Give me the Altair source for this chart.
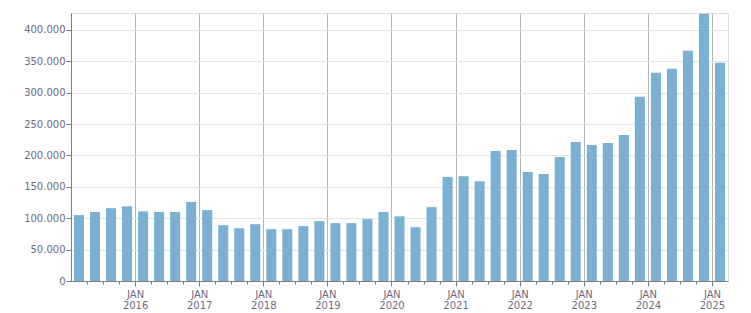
import altair as alt
import pandas as pd

quarters = [f"{y}-Q{q}" for y in range(2015, 2026) for q in range(1, 5)][:41]
values = [
    105000, 110000, 116000, 119000,
    111000, 110000, 110000, 126000,
    113000, 89000, 84000, 90500,
    82600, 82600, 87400, 95400,
    92200, 92200, 98600, 110000,
    103000, 85800, 117700, 165700,
    167000, 159000, 207000, 208800,
    173600, 170400, 197600, 221600,
    216800, 220000, 232700, 293500,
    331800, 338200, 367000, 426000,
    347800,
]
start_year = 2015
y_ticks = [0, 50000, 100000, 150000, 200000, 250000, 300000, 350000, 400000]

df = pd.DataFrame({"quarter": quarters, "value": values})
df["i"] = range(len(df))
df["i2"] = df["i"] + 1
df["base"] = 0

n = len(df)
x_ticks = list(range(1, n))

label_color = "#6e6a82"
font = "DejaVu Sans"

chart = alt.Chart(df).mark_bar(color="#78b1d3", xOffset=3, x2Offset=-3).encode(
    x=alt.X(
        "i:Q",
        scale=alt.Scale(domain=[0, n], nice=False, zero=False),
        axis=alt.Axis(
            values=x_ticks,
            title=None,
            labelExpr=f"datum.value % 4 === 0 ? ['JAN', '' + ({start_year} + datum.value / 4)] : ''",
            labelColor=label_color,
            labelFont=font,
            labelFontSize=10,
            labelLineHeight=11,
            labelPadding=3,
            labelFlush=False,
            labelOverlap=False,
            domainColor="#7d7d7d",
            tickColor="#7d7d7d",
            tickSize={"condition": {"test": "datum.value % 4 === 0", "value": 5}, "value": 3},
            grid=True,
            gridColor="#b3b3b3",
            gridOpacity={"condition": {"test": "datum.value % 4 === 0", "value": 1}, "value": 0},
        ),
    ),
    x2="i2:Q",
    y=alt.Y(
        "value:Q",
        scale=alt.Scale(domain=[0, 427000], nice=False),
        axis=alt.Axis(
            values=y_ticks,
            title=None,
            labelExpr="replace(format(datum.value, ','), ',', '.')",
            labelColor=label_color,
            labelFont=font,
            labelFontSize=10,
            labelPadding=1,
            domainColor="#7d7d7d",
            tickColor="#7d7d7d",
            tickSize=5,
            gridColor="#e2e2e2",
        ),
    ),
    y2="base:Q",
).properties(
    width=657,
    height=268,
    autosize=alt.AutoSizeParams(type="none"),
    padding={"left": 71, "top": 13, "right": 23, "bottom": 32},
).configure_view(
    stroke="#dddddd"
).configure(background="white")

chart.save("out.html", embed_options={"renderer": "svg", "actions": False})
